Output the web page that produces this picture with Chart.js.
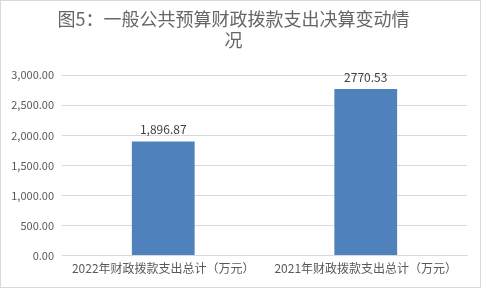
<html>
  <head>
    <title>Fiscal Chart</title>
    <style>
      body { margin: 0; background: #fff; }
    </style>
  </head>
  <body>
    <canvas id="myChart" width="482" height="290"></canvas>
  </body>
</html>

<script src="https://cdn.jsdelivr.net/npm/chart.js"></script>
<script>
  var categories = ['2022年财政拨款支出总计（万元）', '2021年财政拨款支出总计（万元）'];
  var values = [1896.87, 2770.53];
  var valueLabels = ['1,896.87', '2770.53'];
  var titleLines = ['图5：一般公共预算财政拨款支出决算变动情', '况'];

  const fontFamily = '"Noto Sans CJK SC", "Noto Sans", sans-serif';
  const textColor = '#595959';

  // border round the whole picture and labels over the bars
  const extras = {
    id: 'extras',
    afterDraw(chart) {
      const ctx = chart.ctx;
      ctx.save();
      ctx.strokeStyle = '#d9d9d9';
      ctx.lineWidth = 1;
      ctx.strokeRect(0.5, 0.5, 480, 287);

      ctx.fillStyle = '#404040';
      ctx.font = '12px ' + fontFamily;
      ctx.textAlign = 'center';
      ctx.textBaseline = 'bottom';
      const meta = chart.getDatasetMeta(0);
      meta.data.forEach(function(bar, i) {
        ctx.fillText(valueLabels[i], bar.x, bar.y - 6);
      });
      ctx.restore();
    }
  };

  const ctx = document.getElementById('myChart').getContext('2d');
  const myChart = new Chart(ctx, {
    type: 'bar',
    data: {
      labels: categories,
      datasets: [{
        data: values,
        backgroundColor: '#4f81bd',
        categoryPercentage: 1,
        barPercentage: 0.31
      }]
    },
    plugins: [extras],
    options: {
      responsive: false,
      animation: false,
      layout: {
        padding: { left: 0, right: 15, top: 8, bottom: 8 }
      },
      plugins: {
        legend: { display: false },
        tooltip: { enabled: false },
        title: {
          display: true,
          text: titleLines,
          color: '#666666',
          font: { family: fontFamily, size: 18, weight: 'normal', lineHeight: 1.2 },
          padding: { top: 0, bottom: 24 }
        }
      },
      scales: {
        x: {
          grid: { display: false, drawTicks: false },
          border: { color: '#d9d9d9' },
          ticks: {
            color: textColor,
            font: { family: fontFamily, size: 12 },
            padding: 6,
            maxRotation: 0
          }
        },
        y: {
          min: 0,
          max: 3000,
          afterFit(scale) { scale.width = 62; },
          grid: { color: '#d9d9d9', drawTicks: false },
          border: { display: false },
          ticks: {
            stepSize: 500,
            color: textColor,
            font: { family: fontFamily, size: 11 },
            padding: 8,
            callback: function(v) {
              return v.toLocaleString('en-US', { minimumFractionDigits: 2, maximumFractionDigits: 2 });
            }
          }
        }
      }
    }
  });
</script>
